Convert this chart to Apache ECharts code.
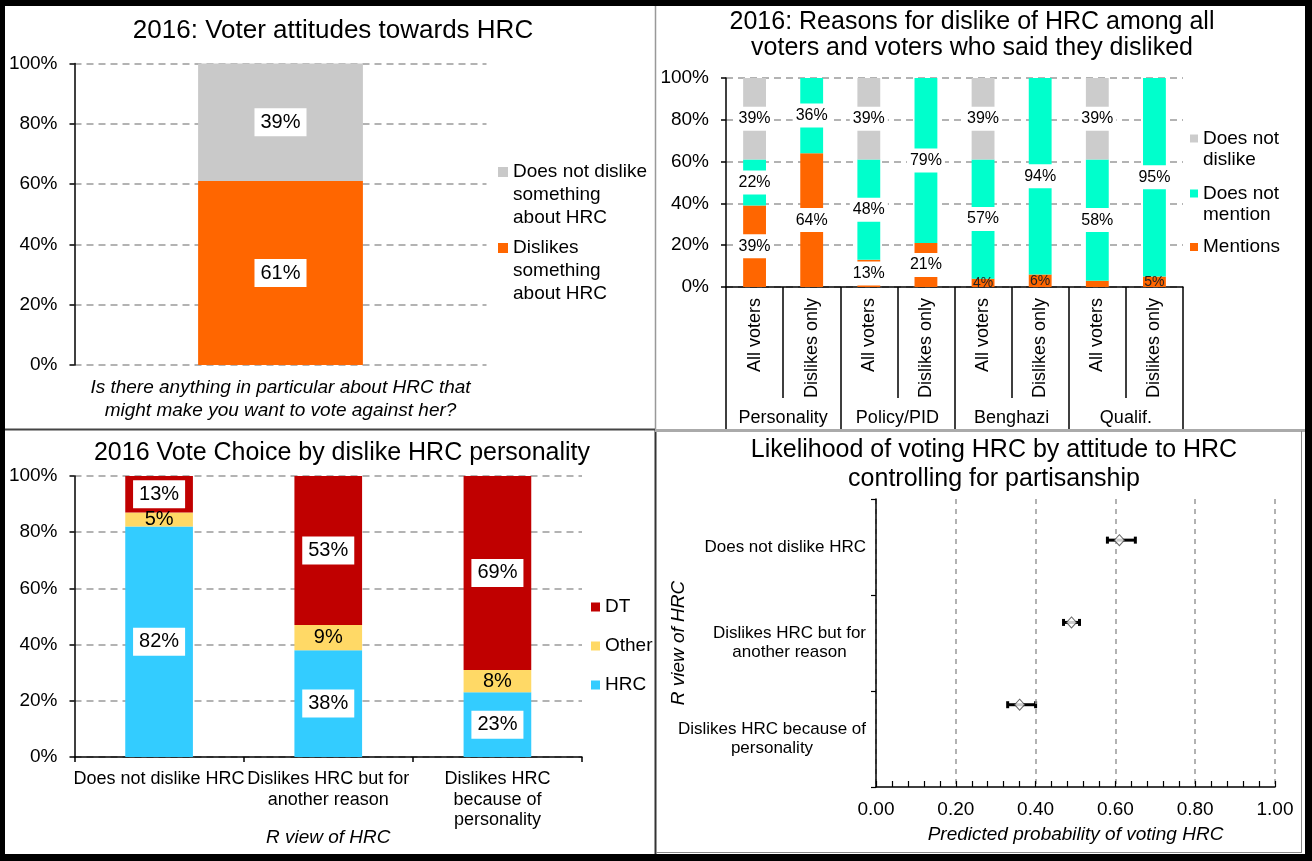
<!DOCTYPE html>
<html><head><meta charset="utf-8">
<script src="https://cdn.jsdelivr.net/npm/echarts@6/dist/echarts.min.js"></script>
<style>html,body{margin:0;padding:0;background:#fff}#c{width:1312px;height:861px}</style>
</head><body><div id="c"></div>
<script>
// ---------- Panel 1: Voter attitudes ----------
const p1Categories = [''];
const p1Dislikes = [61];
const p1NotDislike = [39];
// ---------- Panel 2: Reasons for dislike ----------
const p2Voters = ['All voters','Dislikes only','All voters','Dislikes only','All voters','Dislikes only','All voters','Dislikes only'];
const p2Groups = ['Personality','Policy/PID','Benghazi','Qualif.'];
const p2Mentions = [39,64,13,21,4,6,3,5];
const p2NotMention = [22,36,48,79,57,94,58,95];
const p2NotDislike = [39,0,39,0,39,0,39,0];
// ---------- Panel 3: Vote choice ----------
const p3Categories = ['Does not dislike HRC','Dislikes HRC but for\nanother reason','Dislikes HRC\nbecause of\npersonality'];
const p3HRC = [82,38,23];
const p3Other = [5,9,8];
const p3DT = [13,53,69];
// ---------- Panel 4: Predicted probability ----------
const p4Categories = ['Does not dislike HRC','Dislikes HRC but for\nanother reason','Dislikes HRC because of\npersonality'];
const p4Prob = [0.61,0.49,0.36];
const p4Low = [0.58,0.47,0.33];
const p4High = [0.65,0.51,0.40];

const F = '"Liberation Sans", Arial, Helvetica, sans-serif';
const K = '#000';
const n4 = p4Categories.length;

const gridDash = {show:true, lineStyle:{color:'#9a9a9a', type:[7,5], width:1.5}};
function pctAxis(gridIndex){
  return {type:'value', gridIndex, min:0, max:100, interval:20,
    axisLine:{show:true, lineStyle:{color:K, width:1.5}},
    axisTick:{show:true, length:5, lineStyle:{color:K, width:1.5}},
    axisLabel:{formatter:'{value}%', fontSize:19, color:K, margin:17, fontFamily:F},
    splitLine:gridDash};
}
const boxLabel = {show:true, position:'inside', formatter:'{c}%', fontSize:20, lineHeight:21,
  color:K, backgroundColor:'#fff', padding:[4,6,3,6], fontFamily:F};
const plainLabel = {show:true, position:'inside', formatter:'{c}%', fontSize:20, lineHeight:21, color:K, fontFamily:F};
const p2Label = {show:true, position:'inside', fontFamily:F,
  formatter: p => p.value >= 10 ? '{b|' + p.value + '%}' : (p.value >= 4 ? '{s|' + p.value + '%}' : ''),
  rich:{
    b:{fontSize:16, lineHeight:16, color:K, backgroundColor:'#fff', padding:[4,3,4,3], fontFamily:F},
    s:{fontSize:14, lineHeight:14, color:'#222', fontFamily:F}
  }};

// multi-line legend entries: the icon sits beside the first line (leading blank lines shift the block)
function legendItem(names, left, top, size, fs, lh, extra){
  return Object.assign({data:names, left, top, padding:0, icon:'rect', itemWidth:size, itemHeight:size,
    selectedMode:false, orient:'vertical',
    formatter: name => '\n'.repeat(name.split('\n').length - 1) + name,
    textStyle:{fontSize:fs, lineHeight:lh, color:K, fontFamily:F}}, extra||{});
}

const option = {
  animation:false,
  backgroundColor:'#fff',
  textStyle:{fontFamily:F},
  title:[
    {text:'2016: Voter attitudes towards HRC', left:333, top:31, textAlign:'center', textVerticalAlign:'middle', padding:0,
      textStyle:{fontSize:26, fontWeight:'normal', color:K, fontFamily:F}},
    {text:'2016: Reasons for dislike of HRC among all\nvoters and voters who said they disliked', left:972, top:35,
      textAlign:'center', textVerticalAlign:'middle', padding:0,
      textStyle:{fontSize:25, lineHeight:26, fontWeight:'normal', color:K, fontFamily:F}},
    {text:'2016 Vote Choice by dislike HRC personality', left:342, top:453, textAlign:'center', textVerticalAlign:'middle', padding:0,
      textStyle:{fontSize:25, fontWeight:'normal', color:K, fontFamily:F}},
    {text:'Likelihood of voting HRC by attitude to HRC\ncontrolling for partisanship', left:994, top:464.5,
      textAlign:'center', textVerticalAlign:'middle', padding:0,
      textStyle:{fontSize:25, lineHeight:29, fontWeight:'normal', color:K, fontFamily:F}}
  ],
  legend:[
    legendItem(['Does not dislike\nsomething\nabout HRC'], 498, 114.5, 10, 19, 23),
    legendItem(['Dislikes\nsomething\nabout HRC'], 498, 190.5, 10, 19, 23),
    legendItem(['Does not\ndislike'], 1190, 107, 8, 19, 21),
    legendItem(['Does not\nmention'], 1190, 162, 8, 19, 21),
    legendItem(['Mentions'], 1190, 236.5, 8, 19, 21),
    legendItem(['DT','Other','HRC'], 591, 596.5, 9, 19, 21, {itemGap:18})
  ],
  grid:[
    {left:74.5, top:63.5, width:412, height:301.5, outerBoundsMode:'none', containLabel:false},
    {left:726, top:78, width:457, height:209, outerBoundsMode:'none', containLabel:false},
    {left:74.5, top:476, width:507.5, height:281, outerBoundsMode:'none', containLabel:false},
    {left:876, top:499, width:399, height:288, outerBoundsMode:'none', containLabel:false}
  ],
  xAxis:[
    {type:'category', gridIndex:0, data:p1Categories, position:'bottom',
      axisLine:{show:false}, axisTick:{show:false}, axisLabel:{show:false}, splitLine:{show:false},
      name:'Is there anything in particular about HRC that\nmight make you want to vote against her?',
      nameLocation:'middle', nameGap:11.5, nameMoveOverlap:false,
      nameTextStyle:{fontStyle:'italic', fontSize:19, lineHeight:23, color:K, fontFamily:F}},
    {type:'category', gridIndex:1, data:p2Voters, position:'bottom',
      axisLine:{show:true, lineStyle:{color:K, width:1.5}},
      axisTick:{show:true, interval:0, length:111, lineStyle:{color:K, width:1.5}},
      axisLabel:{interval:0, rotate:90, fontSize:18, color:K, margin:11, fontFamily:F},
      splitLine:{show:false}},
    {type:'category', gridIndex:1, data:p2Groups, position:'bottom',
      axisLine:{show:false},
      axisTick:{show:true, interval:0, length:142, lineStyle:{color:K, width:1.5}},
      axisLabel:{interval:0, fontSize:18, color:K, margin:122, fontFamily:F},
      splitLine:{show:false}},
    {type:'category', gridIndex:2, data:p3Categories, position:'bottom',
      axisLine:{show:true, lineStyle:{color:K, width:1.5}},
      axisTick:{show:true, interval:0, length:5, lineStyle:{color:K, width:1.5}},
      axisLabel:{interval:0, fontSize:18, lineHeight:20.5, color:K, margin:12, fontFamily:F},
      splitLine:{show:false},
      name:'R view of HRC', nameLocation:'middle', nameGap:71, nameMoveOverlap:false,
      nameTextStyle:{fontStyle:'italic', fontSize:19, color:K, fontFamily:F}},
    {type:'value', gridIndex:3, min:0, max:1, interval:0.2, position:'bottom', z:4,
      axisLine:{show:true, onZero:false, lineStyle:{color:K, width:1.5}},
      axisTick:{show:true, inside:true, length:6, lineStyle:{color:K, width:1.2}},
      minorTick:{show:true, splitNumber:5, length:6, lineStyle:{color:K, width:1.2}},
      axisLabel:{formatter:v => v.toFixed(2), fontSize:19, color:K, margin:13, fontFamily:F},
      splitLine:{show:true, lineStyle:{color:'#999', type:[5,5], width:1.5}},
      name:'Predicted probability of voting HRC', nameLocation:'middle', nameGap:38, nameMoveOverlap:false,
      nameTextStyle:{fontStyle:'italic', fontSize:19, color:K, fontFamily:F}}
  ],
  yAxis:[
    pctAxis(0), pctAxis(1), pctAxis(2),
    {type:'category', gridIndex:3, data:p4Categories, inverse:true, position:'left', z:6,
      axisLine:{show:true, onZero:false, lineStyle:{color:K, width:1.5}},
      axisTick:{show:true, length:5, lineStyle:{color:K, width:1.2}},
      axisLabel:{margin:10, fontFamily:F,
        formatter: v => v.split('\n').map(s => '{c|' + s + '}').join('\n'),
        rich:{c:{align:'center', fontSize:17, lineHeight:19, color:K, fontFamily:F}}},
      splitLine:{show:false},
      name:'R view of HRC', nameLocation:'middle', nameGap:188, nameMoveOverlap:false,
      nameTextStyle:{fontStyle:'italic', fontSize:19, color:K, fontFamily:F}},
    {type:'value', gridIndex:3, min:0, max:n4 + 0.5, show:false, position:'right'}
  ],
  series:[
    {name:'Dislikes\nsomething\nabout HRC', type:'bar', xAxisIndex:0, yAxisIndex:0, stack:'p1', barWidth:'40%',
      data:p1Dislikes, itemStyle:{color:'#FF6600'}, label:boxLabel},
    {name:'Does not dislike\nsomething\nabout HRC', type:'bar', xAxisIndex:0, yAxisIndex:0, stack:'p1', barWidth:'40%',
      data:p1NotDislike, itemStyle:{color:'#C9C9C9'}, label:boxLabel},

    {name:'Mentions', type:'bar', xAxisIndex:1, yAxisIndex:1, stack:'p2', barWidth:'40%',
      data:p2Mentions, itemStyle:{color:'#FF6600'}, label:p2Label},
    {name:'Does not\nmention', type:'bar', xAxisIndex:1, yAxisIndex:1, stack:'p2', barWidth:'40%',
      data:p2NotMention, itemStyle:{color:'#00FFCC'}, label:p2Label},
    {name:'Does not\ndislike', type:'bar', xAxisIndex:1, yAxisIndex:1, stack:'p2', barWidth:'40%',
      data:p2NotDislike, itemStyle:{color:'#CCCCCC'}, label:p2Label},

    {name:'HRC', type:'bar', xAxisIndex:3, yAxisIndex:2, stack:'p3', barWidth:'40%',
      data:p3HRC, itemStyle:{color:'#33CCFF'}, label:boxLabel},
    {name:'Other', type:'bar', xAxisIndex:3, yAxisIndex:2, stack:'p3', barWidth:'40%',
      data:p3Other, itemStyle:{color:'#FFD966'}, label:plainLabel},
    {name:'DT', type:'bar', xAxisIndex:3, yAxisIndex:2, stack:'p3', barWidth:'40%',
      data:p3DT, itemStyle:{color:'#C00000'}, label:boxLabel},

    {name:'CI', type:'custom', xAxisIndex:4, yAxisIndex:4, z:3,
      data:p4Low.map((v,i) => [v, p4High[i], n4 - i]),
      encode:{x:[0,1], y:2},
      renderItem:(params, api) => {
        const y = api.value(2);
        const a = api.coord([api.value(0), y]);
        const b = api.coord([api.value(1), y]);
        const cap = 3.5;
        const st = {stroke:'#000', lineWidth:3};
        return {type:'group', children:[
          {type:'line', shape:{x1:a[0], y1:a[1], x2:b[0], y2:b[1]}, style:st},
          {type:'line', shape:{x1:a[0], y1:a[1]-cap, x2:a[0], y2:a[1]+cap}, style:st},
          {type:'line', shape:{x1:b[0], y1:b[1]-cap, x2:b[0], y2:b[1]+cap}, style:st}
        ]};
      }},
    {name:'Predicted', type:'scatter', xAxisIndex:4, yAxisIndex:4, z:5,
      data:p4Prob.map((v,i) => [v, n4 - i]),
      symbol:'diamond', symbolSize:[10,11],
      itemStyle:{color:'#fff', borderColor:'#444', borderWidth:1}}
  ],
  graphic:[
    {type:'line', shape:{x1:655.5, y1:0, x2:655.5, y2:430}, style:{stroke:'#999', lineWidth:1.5}, z:50},
    {type:'line', shape:{x1:655.5, y1:430, x2:655.5, y2:861}, style:{stroke:'#333', lineWidth:2}, z:50},
    {type:'line', shape:{x1:0, y1:429.5, x2:655, y2:429.5}, style:{stroke:'#444', lineWidth:2}, z:50},
    {type:'line', shape:{x1:655, y1:430.5, x2:1312, y2:430.5}, style:{stroke:'#aaa', lineWidth:3}, z:50},
    {type:'line', shape:{x1:1301.5, y1:431, x2:1301.5, y2:853}, style:{stroke:'#888', lineWidth:1}, z:50},
    {type:'line', shape:{x1:656, y1:852.5, x2:1302, y2:852.5}, style:{stroke:'#888', lineWidth:1}, z:50},
    {type:'rect', shape:{x:0, y:0, width:1312, height:6}, style:{fill:'#000'}, z:60},
    {type:'rect', shape:{x:0, y:854, width:1312, height:7}, style:{fill:'#000'}, z:60},
    {type:'rect', shape:{x:0, y:0, width:5, height:861}, style:{fill:'#000'}, z:60},
    {type:'rect', shape:{x:1305, y:0, width:7, height:861}, style:{fill:'#000'}, z:60}
  ]
};
const chart = echarts.init(document.getElementById('c'), null, {renderer:'canvas', width:1312, height:861});
chart.setOption(option);
</script>
</body></html>
